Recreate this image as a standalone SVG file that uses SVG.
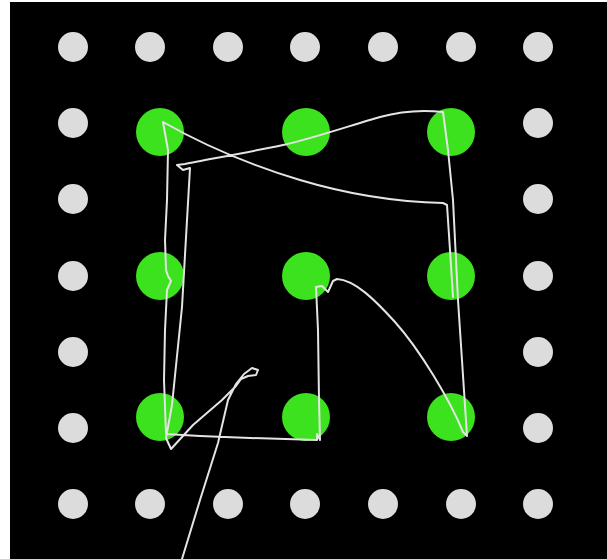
<svg xmlns="http://www.w3.org/2000/svg" width="607" height="559" viewBox="0 0 607 559">
<style>
.g{fill:#dcdcdc}
.a{fill:#3be21d}
.s{fill:none;stroke:#e4e4e4;stroke-width:2;stroke-linejoin:round;stroke-linecap:round}
</style>
<rect x="0" y="0" width="607" height="559" fill="#ffffff"/>
<rect x="10" y="2" width="597" height="557" fill="#000000"/>
<g id="grey-dots">
<g id="g-r1"><circle class="g" cx="73" cy="47" r="15"/><circle class="g" cx="150" cy="47" r="15"/><circle class="g" cx="228" cy="47" r="15"/><circle class="g" cx="305" cy="47" r="15"/><circle class="g" cx="383" cy="47" r="15"/><circle class="g" cx="461" cy="47" r="15"/><circle class="g" cx="538" cy="47" r="15"/></g>
<g id="g-left"><circle class="g" cx="73" cy="123" r="15"/><circle class="g" cx="73" cy="199" r="15"/><circle class="g" cx="73" cy="276" r="15"/><circle class="g" cx="73" cy="352" r="15"/><circle class="g" cx="73" cy="428" r="15"/></g>
<g id="g-right"><circle class="g" cx="538" cy="123" r="15"/><circle class="g" cx="538" cy="199" r="15"/><circle class="g" cx="538" cy="276" r="15"/><circle class="g" cx="538" cy="352" r="15"/><circle class="g" cx="538" cy="428" r="15"/></g>
<g id="g-r7"><circle class="g" cx="73" cy="504" r="15"/><circle class="g" cx="150" cy="504" r="15"/><circle class="g" cx="228" cy="504" r="15"/><circle class="g" cx="305" cy="504" r="15"/><circle class="g" cx="383" cy="504" r="15"/><circle class="g" cx="461" cy="504" r="15"/><circle class="g" cx="538" cy="504" r="15"/></g>
</g>
<g id="green-dots">
<g id="n11"><circle class="a" cx="160" cy="132" r="24"/></g>
<g id="n12"><circle class="a" cx="306" cy="132" r="24"/></g>
<g id="n13"><circle class="a" cx="451" cy="132" r="24"/></g>
<g id="n21"><circle class="a" cx="160" cy="276" r="24"/></g>
<g id="n22"><circle class="a" cx="306" cy="276" r="24"/></g>
<g id="n23"><circle class="a" cx="451" cy="276" r="24"/></g>
<g id="n31"><circle class="a" cx="160" cy="417" r="24"/></g>
<g id="n32"><circle class="a" cx="306" cy="417" r="24"/></g>
<g id="n33"><circle class="a" cx="451" cy="417" r="24"/></g>
</g>
<g id="connectors">
<path class="s" d="M182,559 L200,500 L218,443 L228,400 L236,384 L244,374 L252,368 L258,370 L256,375 L248,376 L241,379 L236,386 L222,400 L193,425 L171,449 L166,438 L172,405 L182,307 L190,168 L183,170 L177,165 L185,164 C205,160 255,151 283,145 S355,124 380,117 S425,110 443,112 L448,150 L453,200 L458,300 L467,436 L463,432 C450,400 420,350 395,322 C375,300 355,280 337,279 L333,281 L328,292 L322,286 L316,287 L318,330 L319,400 L320,440 L317,434 L317,440 L250,438 L200,436 L166,434 L164,380 L165,330 L167,290 L171,281 L168,276 L166,270 L165,240 L167,200 L168,150 L163,122 C200,143 250,165 300,180 S400,202 443,203 L447,205 L450,250 L453,297"/>
</g>
</svg>
